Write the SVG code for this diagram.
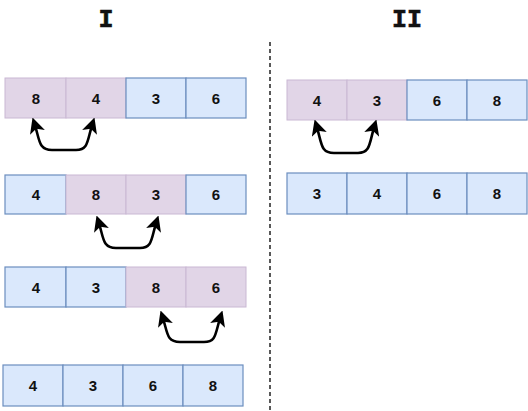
<svg xmlns="http://www.w3.org/2000/svg" width="528" height="411" viewBox="0 0 528 411">
<defs>
<marker id="ah" viewBox="0 0 10 10" refX="7" refY="5" markerWidth="6" markerHeight="6" orient="auto-start-reverse" markerUnits="strokeWidth">
<path d="M0,0 L10,5 L0,10 L2.5,5 Z" fill="#000"/>
</marker>
</defs>
<style>
.p{fill:#e1d5e7;stroke:#c9b8d3;stroke-width:1}
.b{fill:#dae8fc;stroke:#6c8ebf;stroke-width:1.2}
.t{font-family:"Liberation Sans",Arial,sans-serif;font-weight:bold;font-size:15px;fill:#111;text-anchor:middle;dominant-baseline:central}
.h{font-family:"Liberation Mono","Courier New",monospace;font-weight:bold;font-size:25px;fill:#111;text-anchor:middle;stroke:#111;stroke-width:0.6}
.a{fill:none;stroke:#000;stroke-width:2.6;marker-start:url(#ah);marker-end:url(#ah)}
.d{stroke:#222;stroke-width:1.5;stroke-dasharray:4 3}
</style>
<text class="h" x="106" y="27">I</text>
<text class="h" x="407" y="27">II</text>
<line class="d" x1="270" y1="42" x2="270" y2="410"/>
<g id="L1">
<rect class="p" x="5" y="78" width="61" height="40"/><rect class="p" x="66" y="78" width="60" height="40"/>
<rect class="b" x="126" y="78" width="60" height="40"/><rect class="b" x="186" y="78" width="60" height="40"/>
<text class="t" x="36" y="98">8</text><text class="t" x="96" y="98">4</text><text class="t" x="156" y="98">3</text><text class="t" x="216" y="98">6</text>
</g>
<g id="L2">
<rect class="b" x="5" y="175" width="61" height="39"/><rect class="p" x="66" y="175" width="60" height="39"/>
<rect class="p" x="126" y="175" width="60" height="39"/><rect class="b" x="186" y="175" width="60" height="39"/>
<text class="t" x="36" y="194.5">4</text><text class="t" x="96" y="194.5">8</text><text class="t" x="156" y="194.5">3</text><text class="t" x="216" y="194.5">6</text>
</g>
<g id="L3">
<rect class="b" x="5" y="267" width="61" height="40"/><rect class="b" x="66" y="267" width="60" height="40"/>
<rect class="p" x="126" y="267" width="60" height="40"/><rect class="p" x="186" y="267" width="60" height="40"/>
<text class="t" x="36" y="287">4</text><text class="t" x="96" y="287">3</text><text class="t" x="156" y="287">8</text><text class="t" x="216" y="287">6</text>
</g>
<g id="L4">
<rect class="b" x="3" y="365" width="60" height="41"/><rect class="b" x="63" y="365" width="60" height="41"/>
<rect class="b" x="123" y="365" width="60" height="41"/><rect class="b" x="183" y="365" width="60" height="41"/>
<text class="t" x="33" y="385.5">4</text><text class="t" x="93" y="385.5">3</text><text class="t" x="153" y="385.5">6</text><text class="t" x="213" y="385.5">8</text>
</g>
<g id="R1">
<rect class="p" x="287" y="80" width="60" height="40"/><rect class="p" x="347" y="80" width="60" height="40"/>
<rect class="b" x="407" y="80" width="60" height="40"/><rect class="b" x="467" y="80" width="60" height="40"/>
<text class="t" x="317" y="100">4</text><text class="t" x="377" y="100">3</text><text class="t" x="437" y="100">6</text><text class="t" x="497" y="100">8</text>
</g>
<g id="R2">
<rect class="b" x="287" y="173" width="60" height="41"/><rect class="b" x="347" y="173" width="60" height="41"/>
<rect class="b" x="407" y="173" width="60" height="41"/><rect class="b" x="467" y="173" width="60" height="41"/>
<text class="t" x="317" y="193.5">3</text><text class="t" x="377" y="193.5">4</text><text class="t" x="437" y="193.5">6</text><text class="t" x="497" y="193.5">8</text>
</g>
<g id="connectors">
<path class="a" d="M34,122 C40,140 38,150 52,150 L76,150 C89,150 87,140 93,122"/>
<path class="a" d="M98,220 C104,238 102,248 116,248 L140,248 C153,248 151,238 157,220"/>
<path class="a" d="M162,315 C168,333 166,342 180,342 L204,342 C217,342 215,333 221,315"/>
<path class="a" d="M316,124 C322,143 320,153 334,153 L358,153 C371,153 369,143 375,124"/>
</g>
</svg>
